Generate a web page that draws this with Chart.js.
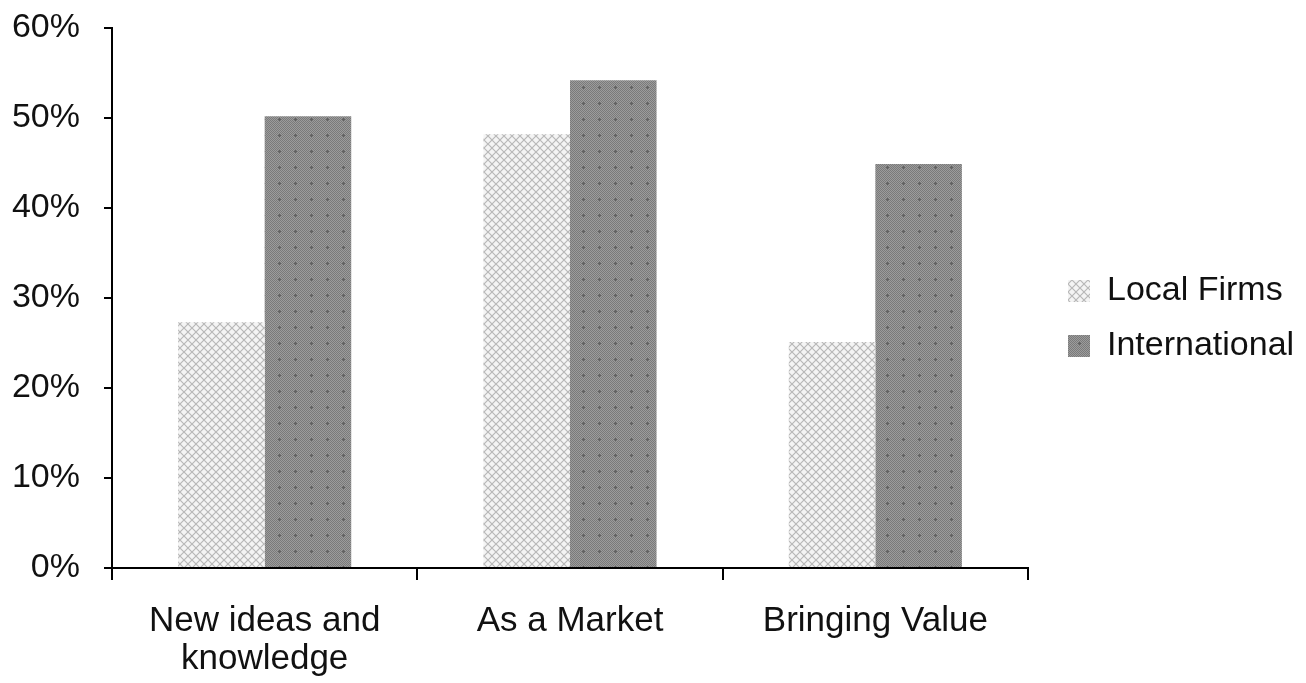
<!DOCTYPE html>
<html>
<head>
<meta charset="utf-8">
<script src="https://cdn.jsdelivr.net/npm/chart.js@4"></script>
<style>
  body { margin: 0; background: #fff; }
  #wrap { width: 1306px; height: 683px; }
</style>
</head>
<body>
<div id="wrap"><canvas id="chart" width="1306" height="683"></canvas></div>
<script>
// Chart data
const categories = [['New ideas and', 'knowledge'], 'As a Market', 'Bringing Value'];
const localFirms = [27.3, 48.2, 25.1];
const international = [50.2, 54.2, 44.9];
const seriesNames = ['Local Firms', 'International'];

// Fill patterns: light cross-hatch and dark dotted grey
function lightPattern() {
    const c = document.createElement('canvas');
    c.width = 8; c.height = 8;
    const g = c.getContext('2d');
    g.fillStyle = '#f4f4f4';
    g.fillRect(0, 0, 8, 8);
    g.strokeStyle = '#b8b8b8';
    g.lineWidth = 1.2;
    g.beginPath();
    g.moveTo(0, 0); g.lineTo(8, 8);
    g.moveTo(8, 0); g.lineTo(0, 8);
    g.stroke();
    return g.createPattern(c, 'repeat');
}

function darkPattern() {
    const c = document.createElement('canvas');
    c.width = 16; c.height = 16;
    const g = c.getContext('2d');
    for (let y = 0; y < 16; y++) {
        for (let x = 0; x < 16; x++) {
            g.fillStyle = (x + y) % 2 === 0 ? '#7a7a7a' : '#9c9c9c';
            g.fillRect(x, y, 1, 1);
        }
    }
    g.fillStyle = '#626262';
    g.fillRect(7, 6, 1, 3);
    g.fillRect(6, 7, 3, 1);
    return g.createPattern(c, 'repeat');
}

const family = 'Liberation Sans, Arial, sans-serif';

// Legend: wider gap to the plot, sitting a little above centre
const legendShift = {
    id: 'legendShift',
    beforeLayout(chart) {
        const lg = chart.legend;
        if (lg && !lg._wideFit) {
            const fit = lg.fit;
            lg.fit = function () {
                fit.call(this);
                this.width = 274;
            };
            lg._wideFit = true;
        }
    },
    afterLayout(chart) {
        const lg = chart.legend;
        if (!lg) return;
        lg.left += 19; lg.right += 19;
        lg.top -= 37; lg.bottom -= 37;
    }
};

const chart = new Chart(
    document.getElementById('chart'),
    {
        type: 'bar',
        data: {
            labels: categories,
            datasets: [
                {
                    label: seriesNames[0],
                    data: localFirms,
                    backgroundColor: lightPattern(),
                    borderWidth: 0
                },
                {
                    label: seriesNames[1],
                    data: international,
                    backgroundColor: darkPattern(),
                    borderWidth: 0
                }
            ]
        },
        options: {
            responsive: false,
            animation: false,
            layout: {
                padding: { left: 12, top: 28, right: 4, bottom: 0 }
            },
            datasets: {
                bar: { categoryPercentage: 0.567, barPercentage: 1.0 }
            },
            plugins: {
                tooltip: { enabled: false },
                legend: {
                    position: 'right',
                    align: 'center',
                    labels: {
                        font: { family: family, size: 34 },
                        color: '#111',
                        boxWidth: 22,
                        boxHeight: 22,
                        padding: 21
                    }
                }
            },
            scales: {
                x: {
                    grid: {
                        drawOnChartArea: false,
                        drawTicks: true,
                        tickLength: 12,
                        color: '#000',
                        lineWidth: 2
                    },
                    border: { color: '#000', width: 2 },
                    ticks: {
                        font: { family: family, size: 35, lineHeight: 1.1 },
                        color: '#111',
                        padding: 22,
                        maxRotation: 0
                    },
                    afterFit(scale) {
                        scale.paddingLeft = 0;
                        scale.paddingRight = 0;
                        scale.height = 115;
                    }
                },
                y: {
                    min: 0,
                    max: 60,
                    grid: {
                        drawOnChartArea: false,
                        drawTicks: true,
                        tickLength: 8,
                        color: '#000',
                        lineWidth: 2
                    },
                    border: { color: '#000', width: 2 },
                    ticks: {
                        stepSize: 10,
                        font: { family: family, size: 34 },
                        color: '#111',
                        padding: 24,
                        callback: v => v + '%'
                    },
                    afterFit(scale) {
                        scale.paddingTop = 0;
                        scale.paddingBottom = 0;
                        scale.width = 100;
                    }
                }
            }
        },
        plugins: [legendShift]
    }
);
</script>
</body>
</html>
